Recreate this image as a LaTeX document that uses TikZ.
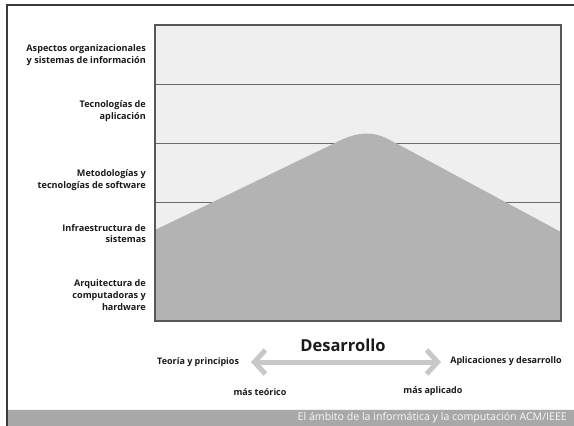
\documentclass[tikz,border=0pt]{standalone}
\usepackage{fontspec}
\setmainfont{Open Sans}
\usetikzlibrary{arrows.meta}
\definecolor{framec}{HTML}{3A3A3A}
\definecolor{boxfill}{HTML}{EFEFEF}
\definecolor{mount}{HTML}{B3B3B3}
\definecolor{linec}{HTML}{6A6A6A}
\definecolor{arrowc}{HTML}{C8C8C8}
\definecolor{footc}{HTML}{A8A8A8}
\definecolor{txtc}{HTML}{1A1A1A}
\tikzset{
  lab/.style={font=\bfseries\fontsize{9.1}{11.8}\selectfont, text=txtc, align=right, anchor=east, inner sep=0pt},
  botlab/.style={font=\bfseries\fontsize{9}{11}\selectfont, text=txtc, inner sep=0pt},
  bandline/.style={draw=linec, line width=0.9pt},
}
\begin{document}
\begin{tikzpicture}[x=1pt,y=-1pt]
\useasboundingbox (0,0) rectangle (574,426);
\fill[white] (0,0) rectangle (574,426);
% outer frame
\draw[framec, line width=2pt] (7,426) -- (7,5) -- (574,5);
% footer band
\fill[footc] (8,410) rectangle (574,426);
\draw[white!85!footc, line width=0.8pt] (8,409.5) -- (574,409.5);
\node[anchor=east, inner sep=0pt, text=white!92!footc, font=\fontsize{10.6}{11}\selectfont] (foot) at (567,418) {El ámbito de la informática y la computación ACM/IEEE};
% chart box
\fill[boxfill] (155,25) rectangle (561,321);
\draw[bandline] (155,84) -- (561,84);
\draw[bandline] (155,143) -- (561,143);
\draw[bandline] (155,202) -- (561,202);
\draw[bandline] (155,261) -- (561,261);
% mountain
\fill[mount] (155,321) -- (155,230)
  -- (333,144) .. controls (350,135) and (368,128) .. (390,140)
  -- (561,232) -- (561,321) -- cycle;
\draw[framec!85, line width=1.3pt] (155,25) rectangle (561,321);
% left labels
\node[lab] (l1) at (146,55.5) {Aspectos organizacionales\\y sistemas de información};
\node[lab] (l2) at (146,111) {Tecnologías de\\aplicación};
\node[lab] (l3) at (146,180) {Metodologías y\\tecnologías de software};
\node[lab] (l4) at (146,233.5) {Infraestructura de\\sistemas};
\node[lab] (l5) at (146,295) {Arquitectura de\\computadoras y\\hardware};
% bottom
\node[font=\bfseries\fontsize{16.5}{18}\selectfont, text=txtc, inner sep=0pt] (des) at (343,345) {Desarrollo};
\node[botlab, anchor=west] (teo) at (157,362) {Teoría y principios};
\node[botlab, anchor=east] (apl) at (562,361.5) {Aplicaciones y desarrollo};
\node[botlab] (mt) at (260,392) {más teórico};
\node[botlab] (ma) at (433,391) {más aplicado};
\coordinate (al) at (251,362);
\coordinate (ar) at (441,362);
\draw[arrowc, line width=5pt, {Straight Barb[length=11pt,width=24pt,line width=5pt]}-{Straight Barb[length=11pt,width=24pt,line width=5pt]}] (al) -- (ar);
\end{tikzpicture}
\end{document}
